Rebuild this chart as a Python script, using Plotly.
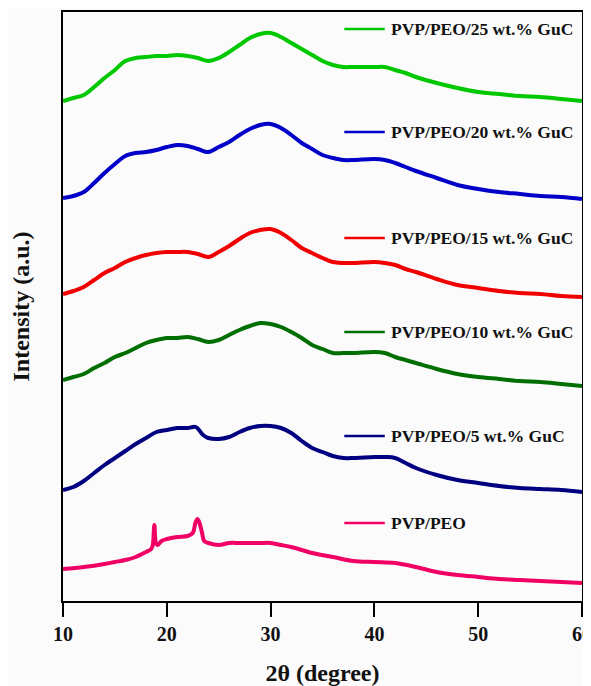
import plotly.graph_objects as go

# 2-theta angles (degree) for each pattern
x_main = [10, 11, 12, 13, 14, 15, 16, 17, 18, 19, 20, 21, 22, 23, 24, 25, 26, 27, 28, 29,
          30, 31, 32, 33, 34, 35, 36, 37, 38, 40, 41, 42, 43, 44, 46, 48, 50, 52, 54, 56, 58, 60]

# Intensities (a.u., vertically offset stacks as in the picture)
y_25 = [500, 503, 506, 514, 523, 531, 540, 543, 544, 545, 545, 546, 545, 543, 540, 543, 549, 556, 563, 567,
        568, 564, 558, 552, 546, 540, 536, 534, 534, 534, 534, 531, 528, 524, 518, 513, 509, 507, 505, 504, 502, 500]
y_20 = [403, 405, 409, 418, 428, 437, 445, 448, 449, 451, 454, 456, 455, 452, 449, 454, 459, 466, 472, 476,
        477, 473, 466, 458, 452, 446, 443, 441, 441, 442, 441, 438, 434, 430, 423, 416, 412, 409, 407, 405, 404, 402]
y_15 = [307, 310, 314, 321, 328, 333, 339, 343, 346, 348, 349, 349, 349, 347, 344, 349, 355, 362, 368, 371,
        372, 368, 361, 353, 348, 343, 339, 338, 338, 339, 338, 336, 332, 329, 322, 316, 313, 310, 308, 307, 305, 304]
y_10 = [221, 224, 227, 233, 238, 244, 248, 253, 258, 261, 263, 263, 264, 262, 259, 261, 266, 271, 275, 278,
        277, 274, 269, 263, 256, 252, 248, 248, 248, 249, 248, 244, 241, 238, 232, 227, 224, 222, 220, 219, 217, 215]

x_5 = [10, 11, 12, 13, 14, 15, 16, 17, 18, 19, 20, 21, 22, 22.8, 23.5, 24, 25, 26, 27, 28, 29,
       30, 31, 32, 33, 34, 35, 36, 37, 38, 40, 41, 42, 43, 44, 46, 48, 50, 52, 54, 56, 58, 60]
y_5 = [111, 114, 120, 128, 136, 143, 150, 157, 163, 169, 171, 173, 173, 174, 166, 163, 162, 164, 169, 173, 175,
       175, 173, 168, 160, 153, 149, 145, 143, 143, 144, 144, 143, 138, 133, 126, 121, 118, 115, 113, 112, 111, 109]

x_0 = [10, 12, 14, 15, 16, 17, 18, 18.5, 18.65, 18.8, 18.95, 19.1, 19.5, 20, 21, 22, 22.5, 22.75, 22.95, 23.15,
       23.4, 23.6, 24, 25, 26, 27, 28, 29, 30, 31, 32, 34, 36, 38, 40, 42, 44, 46, 48, 50, 52, 54, 56, 58, 60]
y_0 = [32, 34, 37, 39, 41, 44, 49, 52, 56, 76, 58, 56, 60, 62, 64, 65, 68, 78, 82, 78,
       68, 60, 58, 56, 58, 58, 58, 58, 58, 56, 54, 48, 44, 40, 39, 38, 34, 29, 26, 24, 22, 21, 20, 19, 18]

names = ["PVP/PEO/25 wt.% GuC", "PVP/PEO/20 wt.% GuC", "PVP/PEO/15 wt.% GuC",
         "PVP/PEO/10 wt.% GuC", "PVP/PEO/5 wt.% GuC", "PVP/PEO"]
colors = ["#00c800", "#0000c8", "#f00000", "#006e00", "#000080", "#f00064"]
legend_y = [572, 469, 363, 269, 165, 78]

xs = [x_main, x_main, x_main, x_main, x_5, x_0]
ys = [y_25, y_20, y_15, y_10, y_5, y_0]

font_family = "Liberation Serif"

fig = go.Figure()
for xv, yv, nm, c in zip(xs, ys, names, colors):
    fig.add_trace(go.Scatter(x=xv, y=yv, mode="lines", name=nm,
                             line=dict(color=c, width=4, shape="spline", smoothing=1.0),
                             showlegend=False))

shapes = []
annotations = []
for nm, c, ly in zip(names, colors, legend_y):
    shapes.append(dict(type="line", xref="x", yref="y", x0=37.1, x1=41.0, y0=ly, y1=ly,
                       line=dict(color=c, width=2.5)))
    annotations.append(dict(x=41.4, y=ly, xref="x", yref="y", text="<b>%s</b>" % nm,
                            showarrow=False, xanchor="left", yanchor="middle",
                            font=dict(family=font_family, size=17.5, color="#111111")))

# page body adds an 8px offset; margins compensate for it
fig.update_layout(
    width=591, height=678,
    margin=dict(l=55, r=17, t=4, b=85),
    paper_bgcolor="#fbfbfb", plot_bgcolor="#fbfbfb",
    shapes=shapes, annotations=annotations,
    font=dict(family=font_family, color="#111111"),
)
fig.update_xaxes(range=[10, 60], tickvals=[10, 20, 30, 40, 50, 60],
                 ticktext=["<b>10</b>", "<b>20</b>", "<b>30</b>", "<b>40</b>", "<b>50</b>", "<b>60</b>"],
                 ticks="outside", ticklen=14, tickwidth=2, tickcolor="black",
                 ticklabeloverflow="allow",
                 showline=True, linewidth=2, linecolor="black", mirror=True,
                 showgrid=False, zeroline=False, automargin=False,
                 tickfont=dict(family=font_family, size=20, color="#111111"),
                 title=dict(text="<b>2θ (degree)</b>", font=dict(family=font_family, size=24), standoff=20))
fig.update_yaxes(range=[0, 589], showticklabels=False, ticks="",
                 showline=True, linewidth=2, linecolor="black", mirror=True,
                 showgrid=False, zeroline=False, automargin=False,
                 title=dict(text="<b>Intensity (a.u.)</b>", font=dict(family=font_family, size=24), standoff=25))

fig.write_html("out.html")
